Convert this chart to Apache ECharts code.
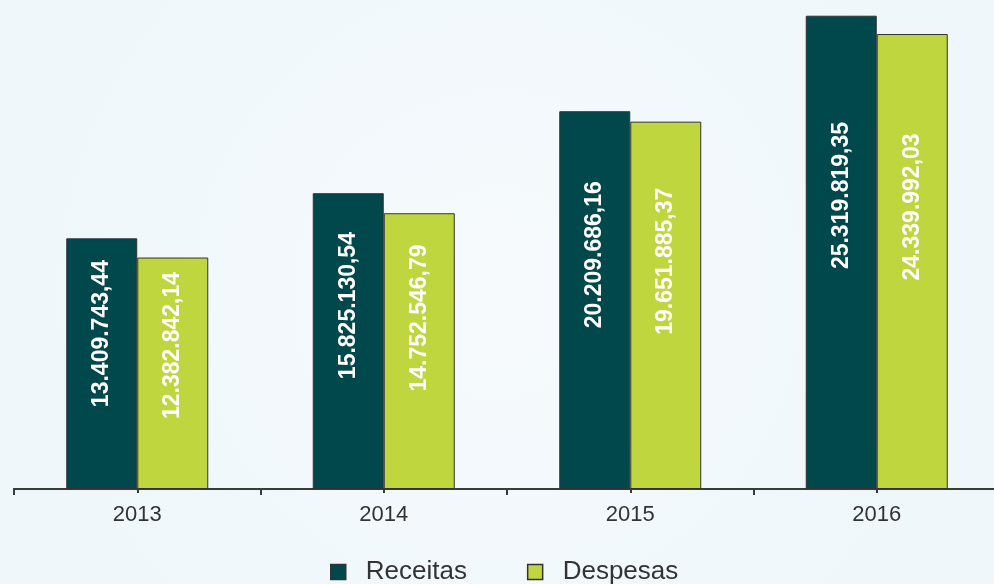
<!DOCTYPE html>
<html>
<head>
<meta charset="utf-8">
<script src="https://cdn.jsdelivr.net/npm/echarts@6/dist/echarts.min.js"></script>
<style>
html,body{margin:0;padding:0;}
#c{width:994px;height:584px;}
</style>
</head>
<body>
<div id="c"></div>
<script>
var years = ['2013', '2014', '2015', '2016'];
var receitas = [13409743.44, 15825130.54, 20209686.16, 25319819.35];
var despesas = [12382842.14, 14752546.79, 19651885.37, 24339992.03];
var seriesNames = ['Receitas', 'Despesas'];

function fmtBR(v) {
  var parts = v.toFixed(2).split('.');
  var intPart = parts[0].replace(/\B(?=(\d{3})+(?!\d))/g, '.');
  return intPart + ',' + parts[1];
}

var chart = echarts.init(document.getElementById('c'), null, {renderer: 'canvas'});
var FONT = 'Liberation Sans, Arial, sans-serif';
var labelCfg = {
  show: true,
  rotate: 90,
  position: ['50%', '38%'],
  align: 'center',
  verticalAlign: 'middle',
  color: '#ffffff',
  fontWeight: 'bold',
  fontSize: 23,
  fontFamily: FONT,
  formatter: function (p) { return fmtBR(p.value); }
};
function gridLayout() {
  return {left: 14, right: -6, top: 3, bottom: 95, outerBoundsMode: 'none', containLabel: false};
}
chart.setOption({
  backgroundColor: {
    type: 'radial', x: 0.5, y: 0.5, r: 0.8,
    colorStops: [{offset: 0, color: '#f6fafd'}, {offset: 1, color: '#eff7fb'}]
  },
  animation: false,
  grid: [gridLayout(), gridLayout()],
  legend: {
    top: 554,
    left: 325,
    itemWidth: 15,
    itemHeight: 15,
    itemGap: 60,
    icon: 'rect',
    data: seriesNames,
    textStyle: {fontSize: 26, color: '#333333', fontFamily: FONT, padding: [0, 0, 0, 15]},
    itemStyle: {borderColor: '#333333', borderWidth: 1.5}
  },
  xAxis: [{
    type: 'category',
    gridIndex: 0,
    data: years,
    position: 'bottom',
    axisLine: {show: true, lineStyle: {color: '#363d38', width: 2}},
    axisTick: {show: true, length: 6, lineStyle: {color: '#363d38', width: 2}},
    axisLabel: {fontSize: 22, color: '#333333', margin: 15, fontFamily: FONT}
  }, {
    type: 'category',
    gridIndex: 1,
    data: years,
    position: 'bottom',
    axisLine: {show: true, lineStyle: {color: '#363d38', width: 2}},
    axisTick: {show: true, alignWithLabel: true, length: 4, lineStyle: {color: '#363d38', width: 2}},
    axisLabel: {show: false},
    splitLine: {show: false}
  }],
  yAxis: [
    {type: 'value', gridIndex: 0, min: 0, max: 26000000, show: false, splitLine: {show: false}},
    {type: 'value', gridIndex: 1, min: 0, max: 26000000, show: false, splitLine: {show: false}}
  ],
  series: [{
    name: seriesNames[0],
    type: 'bar',
    xAxisIndex: 0,
    yAxisIndex: 0,
    data: receitas,
    barWidth: 71,
    barGap: '0%',
    itemStyle: {color: '#00484c', borderColor: '#333333', borderWidth: 1},
    label: labelCfg
  }, {
    name: seriesNames[1],
    type: 'bar',
    xAxisIndex: 0,
    yAxisIndex: 0,
    data: despesas,
    barWidth: 71,
    barGap: '0%',
    itemStyle: {color: '#c0d63e', borderColor: '#333333', borderWidth: 1},
    label: labelCfg
  }]
});
</script>
</body>
</html>
